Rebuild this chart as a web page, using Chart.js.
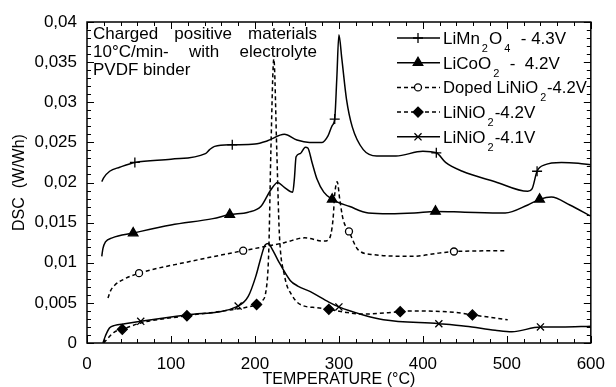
<!DOCTYPE html>
<html>
<head>
<meta charset="utf-8">
<script src="https://cdn.jsdelivr.net/npm/chart.js@4.4.1/dist/chart.umd.min.js"></script>
<style>
    body { margin: 0; background: #fff; }
    canvas { display: block; }
</style>
</head>
<body>
<canvas id="dscChart" width="616" height="387"></canvas>
<script>
// DSC of charged positive materials

// LiMn2O4 - 4.3V
const mnTemp = [17.6, 20, 27, 39, 57, 100, 141, 146, 152, 173, 200, 215, 235, 250, 265, 280, 287, 292, 295, 297.5, 300, 303.5, 309, 316, 329, 345, 368, 400, 416, 427, 447, 486, 525, 530, 536, 545, 565, 585, 600];
const mnDsc = [0.0201, 0.0206, 0.0214, 0.0219, 0.0225, 0.0229, 0.0236, 0.0241, 0.0245, 0.0247, 0.0248, 0.0252, 0.026, 0.0253, 0.025, 0.025, 0.0258, 0.0271, 0.0279, 0.033, 0.0384, 0.0354, 0.0304, 0.0269, 0.0241, 0.0233, 0.0233, 0.0239, 0.0237, 0.0225, 0.0214, 0.0201, 0.0189, 0.0192, 0.0214, 0.0222, 0.0225, 0.0224, 0.0222];
const mnMarks = [57, 173, 295, 416, 536];

// LiCoO2 - 4.2V
const coTemp = [17.6, 19, 22, 30, 55, 100, 150, 170, 192, 207, 219, 227, 235, 245, 247, 249, 254, 260, 263, 268, 274, 282, 292, 313, 335, 360, 390, 415, 450, 498, 525, 539, 553, 575, 600];
const coDsc = [0.0108, 0.0118, 0.0126, 0.0131, 0.0137, 0.0147, 0.0155, 0.016, 0.0163, 0.017, 0.0191, 0.02, 0.0194, 0.0188, 0.0205, 0.0232, 0.0236, 0.0244, 0.0243, 0.0225, 0.0204, 0.0188, 0.0179, 0.017, 0.0162, 0.0161, 0.0162, 0.0164, 0.0163, 0.0162, 0.0172, 0.0179, 0.0182, 0.0172, 0.0158];
const coMarks = [55, 170, 292, 415, 539];

// Doped LiNiO2 - 4.2V
const dpTemp = [25, 28, 33, 45, 62, 120, 186, 235, 259, 282, 288, 293, 295, 298, 301, 305, 312, 323, 342, 388, 419, 437, 500];
const dpDsc = [0.0056, 0.0065, 0.0072, 0.008, 0.0087, 0.0101, 0.0115, 0.0125, 0.0131, 0.0127, 0.0129, 0.0154, 0.0185, 0.0201, 0.0179, 0.0154, 0.0139, 0.0116, 0.011, 0.0108, 0.0112, 0.0114, 0.0115];
const dpMarks = [62, 186, 312, 437];

// LiNiO2 - 4.2V
const n2Temp = [20, 25, 33, 42, 64, 119, 170, 192, 202, 208, 213, 216.5, 219, 222.5, 226, 229, 235, 245, 256, 274, 288, 310, 329, 373, 388, 439, 459, 501];
const n2Dsc = [0, 0.0006, 0.0014, 0.0017, 0.0025, 0.0034, 0.0041, 0.0045, 0.0048, 0.0052, 0.0064, 0.0116, 0.024, 0.0354, 0.024, 0.0138, 0.0085, 0.0058, 0.0047, 0.0044, 0.0042, 0.0038, 0.0036, 0.0039, 0.004, 0.0038, 0.0035, 0.0029];
const n2Marks = [42, 119, 202, 288, 373, 459];

// LiNiO2 - 4.1V
const n1Temp = [19, 22, 27, 33, 45, 64, 119, 180, 192, 201, 207, 212, 216, 220, 227, 242, 251, 266, 288, 300, 329, 353, 419, 451, 486, 506, 540, 565, 600];
const n1Dsc = [0, 0.0009, 0.0019, 0.0022, 0.0024, 0.0027, 0.0035, 0.0046, 0.0058, 0.0083, 0.0106, 0.0122, 0.0124, 0.0118, 0.0104, 0.0078, 0.0071, 0.0064, 0.0051, 0.0045, 0.0035, 0.0029, 0.0024, 0.0021, 0.0016, 0.0014, 0.002, 0.002, 0.0021];
const n1Marks = [64, 180, 300, 419, 540];

// Axis ticks and texts
const xTickLabels = ['0', '100', '200', '300', '400', '500', '600'];
const yTickLabels = ['0', '0,005', '0,01', '0,015', '0,02', '0,025', '0,03', '0,035', '0,04'];
const legendLabels = ['LiMn_2O_4  - 4.3V', 'LiCoO_2  -  4.2V', 'Doped LiNiO_2-4.2V', 'LiNiO_2-4.2V', 'LiNiO_2-4.1V'];
const noteLines = ['Charged positive materials', '10°C/min-  with  electrolyte', 'PVDF binder'];

const FONT = '"Liberation Sans", Arial, Helvetica, sans-serif';

function toPoints(temps, values) {
    return temps.map((t, i) => ({ x: t, y: values[i] }));
}

function series(label, temps, values, marks, style) {
    return {
        label: label,
        data: toPoints(temps, values),
        borderColor: '#000',
        borderWidth: 1.5,
        borderDash: style.dash || [],
        cubicInterpolationMode: 'monotone',
        fill: false,
        pointStyle: style.point,
        pointRadius: ctx => (ctx.raw && marks.includes(ctx.raw.x)) ? style.radius : 0,
        pointHoverRadius: 0,
        pointBackgroundColor: style.fill,
        pointBorderColor: '#000',
        pointBorderWidth: 1.3,
        markerStyle: style
    };
}

const styles = [
    { point: 'cross', radius: 5, fill: '#000' },
    { point: 'triangle', radius: 5.5, fill: '#000' },
    { point: 'circle', radius: 3.5, fill: '#fff', dash: [4, 3] },
    { point: 'rectRot', radius: 5, fill: '#000', dash: [4, 3] },
    { point: 'crossRot', radius: 5, fill: '#000' }
];

// Frame, inward ticks, legend and note
const overlayPlugin = {
    id: 'overlay',
    afterDraw(chart) {
        const { ctx, chartArea: a, scales: { x, y } } = chart;
        ctx.save();
        ctx.strokeStyle = '#000';
        ctx.setLineDash([]);
        ctx.lineWidth = 1;

        ctx.beginPath();
        for (let i = 0; i <= 30; i++) {
            const px = Math.round(x.getPixelForValue(i * 20)) + 0.5;
            const len = i % 5 === 0 ? 7 : 4;
            ctx.moveTo(px, a.bottom); ctx.lineTo(px, a.bottom - len);
            ctx.moveTo(px, a.top); ctx.lineTo(px, a.top + len);
        }
        for (let i = 0; i <= 40; i++) {
            const py = Math.round(y.getPixelForValue(i / 1000)) + 0.5;
            const len = i % 5 === 0 ? 7 : 4;
            ctx.moveTo(a.left, py); ctx.lineTo(a.left + len, py);
            ctx.moveTo(a.right, py); ctx.lineTo(a.right - len, py);
        }
        ctx.stroke();

        ctx.lineWidth = 1.5;
        ctx.strokeRect(a.left, a.top, a.right - a.left, a.bottom - a.top);

        // legend
        ctx.fillStyle = '#000';
        chart.data.datasets.forEach((ds, i) => {
            const st = ds.markerStyle;
            const cy = 38 + i * 24.7;
            ctx.lineWidth = 1.5;
            ctx.setLineDash(st.dash || []);
            ctx.beginPath();
            ctx.moveTo(397, cy); ctx.lineTo(440, cy);
            ctx.stroke();
            ctx.setLineDash([]);
            ctx.lineWidth = 1.3;
            ctx.fillStyle = st.fill;
            Chart.helpers.drawPoint(ctx, { pointStyle: st.point, radius: st.radius, rotation: 0, borderWidth: 1.3 }, 418, cy);
            ctx.fillStyle = '#000';
            drawRich(ctx, legendLabels[i], 443, cy + 6, a.right - 447);
        });

        // note in the upper left corner
        ctx.font = '17px ' + FONT;
        ctx.textAlign = 'left';
        ctx.textBaseline = 'alphabetic';
        noteLines.forEach((line, i) => {
            const base = 39 + i * 18;
            if (i === noteLines.length - 1) {
                ctx.fillText(line, 93, base);
                return;
            }
            const words = line.split(/\s+/);
            const used = words.reduce((s, w) => s + ctx.measureText(w).width, 0);
            const gap = (224 - used) / (words.length - 1);
            let cx = 93;
            words.forEach(w => {
                ctx.fillText(w, cx, base);
                cx += ctx.measureText(w).width + gap;
            });
        });
        ctx.restore();
    }
};

// text with _d subscripts, squeezed if wider than maxW
function drawRich(ctx, text, x, base, maxW) {
    const parts = text.split(/(_\d)/).filter(p => p);
    const widthOf = p => {
        ctx.font = (p[0] === '_' ? '11px ' : '17px ') + FONT;
        return p[0] === '_' ? 3 + ctx.measureText(p[1]).width : ctx.measureText(p).width;
    };
    const total = parts.reduce((s, p) => s + widthOf(p), 0);
    const k = Math.min(1, maxW / total);
    ctx.save();
    ctx.translate(x, base);
    ctx.scale(k, 1);
    ctx.textAlign = 'left';
    ctx.textBaseline = 'alphabetic';
    let cx = 0;
    parts.forEach(p => {
        if (p[0] === '_') {
            ctx.font = '11px ' + FONT;
            ctx.fillText(p[1], cx + 2, 8);
        } else {
            ctx.font = '17px ' + FONT;
            ctx.fillText(p, cx, 0);
        }
        cx += widthOf(p);
    });
    ctx.restore();
}

const tickFont = { family: FONT, size: 17 };

new Chart(document.getElementById('dscChart'), {
    type: 'line',
    data: {
        datasets: [
            series('LiMn2O4 - 4.3V', mnTemp, mnDsc, mnMarks, styles[0]),
            series('LiCoO2 - 4.2V', coTemp, coDsc, coMarks, styles[1]),
            series('Doped LiNiO2-4.2V', dpTemp, dpDsc, dpMarks, styles[2]),
            series('LiNiO2-4.2V', n2Temp, n2Dsc, n2Marks, styles[3]),
            series('LiNiO2-4.1V', n1Temp, n1Dsc, n1Marks, styles[4])
        ]
    },
    options: {
        responsive: false,
        animation: false,
        events: [],
        layout: { padding: { top: 22, right: 19, left: 0, bottom: 0 } },
        plugins: {
            legend: { display: false },
            tooltip: { enabled: false }
        },
        scales: {
            x: {
                type: 'linear',
                min: 0,
                max: 600,
                grid: { display: false, drawTicks: false },
                border: { display: false },
                ticks: {
                    stepSize: 100,
                    autoSkip: false,
                    maxRotation: 0,
                    padding: 11,
                    color: '#000',
                    font: tickFont,
                    callback: (v, i) => xTickLabels[i]
                },
                title: {
                    display: true,
                    text: 'TEMPERATURE (°C)',
                    color: '#000',
                    font: { family: FONT, size: 16 },
                    padding: { top: 0, bottom: -2 }
                },
                afterFit: scale => { scale.height = 44; }
            },
            y: {
                min: 0,
                max: 0.04,
                grid: { display: false, drawTicks: false },
                border: { display: false },
                ticks: {
                    stepSize: 0.005,
                    autoSkip: false,
                    padding: 10,
                    color: '#000',
                    font: tickFont,
                    callback: (v, i) => yTickLabels[i]
                },
                title: {
                    display: true,
                    text: 'DSC  (W/Wh)',
                    color: '#000',
                    font: { family: FONT, size: 16 },
                    padding: { top: 10, bottom: 0 }
                },
                afterFit: scale => { scale.width = 87; }
            }
        }
    },
    plugins: [overlayPlugin]
});
</script>
</body>
</html>
